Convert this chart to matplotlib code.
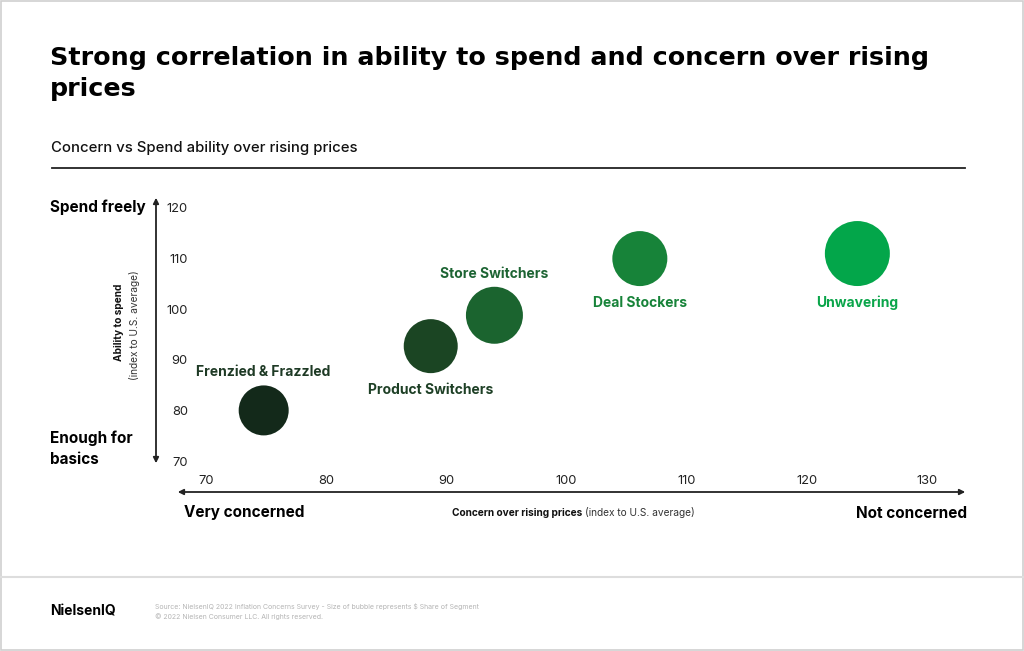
import matplotlib.pyplot as plt
from matplotlib.patches import FancyArrowPatch, Rectangle
from matplotlib.lines import Line2D

plt.rcParams['font.family'] = ['Inter', 'DejaVu Sans']

# data
segments = ["Frenzied & Frazzled", "Product Switchers", "Store Switchers",
            "Deal Stockers", "Unwavering"]
concern = [74.8, 88.7, 94.0, 106.1, 124.2]      # x: concern over rising prices
spend = [80.0, 92.7, 98.8, 110.0, 111.0]        # y: ability to spend
bubble_px = [50, 54, 57, 55, 65]                # bubble diameter ($ share of segment)
colors = ["#13291a", "#1b4523", "#1b642f", "#178339", "#03a64a"]
label_colors = ["#1e3a25", "#1e4026", "#1d6433", "#178339", "#0aa54a"]
label_pos = ["above", "below", "above", "below", "below"]

x_ticks = [70, 80, 90, 100, 110, 120, 130]
y_ticks = [70, 80, 90, 100, 110, 120]

W, H, DPI = 1024, 651, 100


def fx(px):
    return px / W


def fy(py):
    return 1 - py / H


fig = plt.figure(figsize=(W / DPI, H / DPI), dpi=DPI)
fig.patch.set_facecolor("white")

# outer border and footer divider
fig.add_artist(Rectangle((0.0005, 0.001), 0.999, 0.998, transform=fig.transFigure,
                         fill=False, edgecolor="#cfcfcf", lw=1.2))
fig.add_artist(Line2D([0, 1], [fy(577), fy(577)], transform=fig.transFigure,
                      color="#dddddd", lw=1.5))

# title block
fig.text(fx(50), fy(58), "Strong correlation in ability to spend and concern over rising",
         fontsize=18.3, weight="bold", va="center", ha="left", color="black",
         family="DejaVu Sans")
fig.text(fx(50), fy(89), "prices", fontsize=18.3, weight="bold", va="center",
         ha="left", color="black", family="DejaVu Sans")
fig.text(fx(51), fy(148), "Concern vs Spend ability over rising prices",
         fontsize=10.7, weight="medium", va="center", ha="left", color="#111111")
fig.add_artist(Line2D([fx(52), fx(965)], [fy(168), fy(168)], transform=fig.transFigure,
                      color="#222222", lw=1.3))

# plot area
ax = fig.add_axes([fx(192), fy(468), fx(966) - fx(192), fy(196) - fy(468)])
ax.set_xlim(68.835, 133.24)
ax.set_ylim(68.62, 122.37)
for s in ax.spines.values():
    s.set_visible(False)
ax.set_xticks(x_ticks)
ax.set_yticks(y_ticks)
ax.tick_params(axis="both", length=0, labelsize=9.3, labelcolor="#222222")
ax.tick_params(axis="y", pad=3)
ax.tick_params(axis="x", pad=5)

sizes = [(d * 72 / DPI) ** 2 for d in bubble_px]
ax.scatter(concern, spend, s=sizes, c=colors, linewidths=0, zorder=3)

for name, x, y, d, col, pos in zip(segments, concern, spend, bubble_px, label_colors, label_pos):
    if pos == "above":
        dy = (d / 2 + 13) * 72 / DPI
    else:
        dy = -(d / 2 + 17) * 72 / DPI
    ax.annotate(name, (x, y), xytext=(0, dy), textcoords="offset points",
                ha="center", va="center", fontsize=10, weight="bold", color=col)

# axis arrows
fig.add_artist(FancyArrowPatch((fx(156), fy(466)), (fx(156), fy(195)),
                               transform=fig.transFigure, arrowstyle="<|-|>",
                               mutation_scale=8, color="#222222", lw=1.3))
fig.add_artist(FancyArrowPatch((fx(175), fy(492)), (fx(968), fy(492)),
                               transform=fig.transFigure, arrowstyle="<|-|>",
                               mutation_scale=8, color="#222222", lw=1.3))

# y axis description
fig.text(fx(50), fy(207), "Spend freely", fontsize=11, weight="bold", va="center")
fig.text(fx(50), fy(438), "Enough for", fontsize=11, weight="bold", va="center")
fig.text(fx(50), fy(459), "basics", fontsize=11, weight="bold", va="center")
fig.text(fx(119), fy(322), "Ability to spend", fontsize=7.3, weight="bold",
         rotation=90, ha="center", va="center", color="#111111")
fig.text(fx(135), fy(325), "(index to U.S. average)", fontsize=7.3,
         rotation=90, ha="center", va="center", color="#333333")

# x axis description
fig.text(fx(184), fy(513), "Very concerned", fontsize=11, weight="bold", va="center")
fig.text(fx(967), fy(513), "Not concerned", fontsize=11, weight="bold", va="center",
         ha="right")
t1 = fig.text(fx(452), fy(513), "Concern over rising prices ", fontsize=7.3,
              weight="bold", va="center", ha="left", color="#111111")
fig.canvas.draw()
bb = t1.get_window_extent()
fig.text(bb.x1 / W, fy(513), "(index to U.S. average)", fontsize=7.3,
         va="center", ha="left", color="#333333")

# footer
fig.text(fx(50), fy(611), "NielsenIQ", fontsize=10, weight="bold", va="center")
fig.text(fx(155), fy(607), "Source: NielsenIQ 2022 Inflation Concerns Survey - Size of bubble "
         "represents $ Share of Segment", fontsize=5, va="center", color="#b5b5b5")
fig.text(fx(155), fy(617), "\u00a9 2022 Nielsen Consumer LLC. All rights reserved.",
         fontsize=5, va="center", color="#b5b5b5")

fig.savefig("out.png", dpi=DPI)
